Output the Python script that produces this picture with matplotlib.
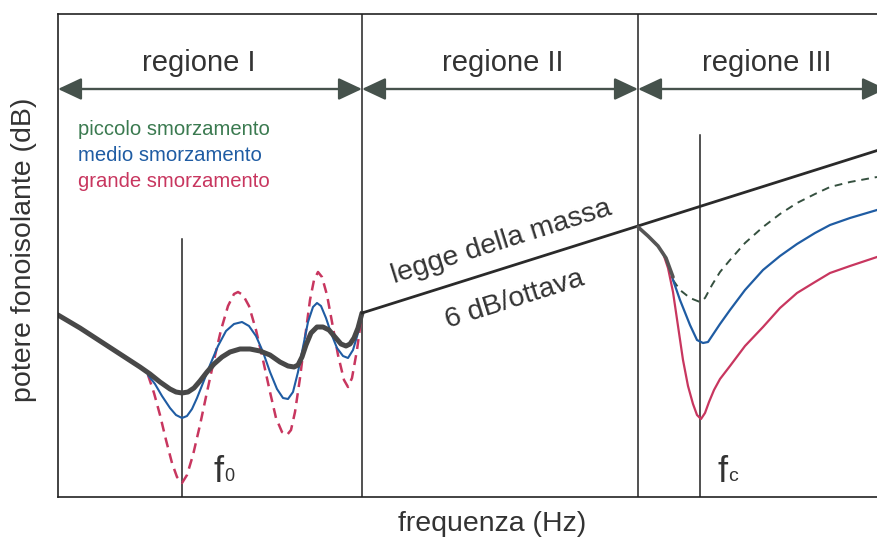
import matplotlib.pyplot as plt
from matplotlib.patches import FancyArrowPatch

plt.rcParams['font.family'] = ['Liberation Sans', 'DejaVu Sans']

# schematic units: x grows with frequency, y grows downwards (less insulation)
X_MIN, X_MAX = 58, 920
Y_TOP, Y_BOT = 14, 497

# region boundaries and characteristic frequencies
region_edges = [58, 362, 638, 886]
region_names = ['regione I', 'regione II', 'regione III']
region_label_x = [199, 503, 767]
f0_x, f0_top = 182, 239
fc_x, fc_top = 700, 135

# region I: stiffness / resonance region
r1_thick_x = [58, 80, 100, 120, 140, 150, 160, 170, 176, 182, 188, 194, 200,
              207, 214, 222, 230, 240, 250, 260, 270, 280, 288, 294, 298, 302,
              306, 311, 317, 323, 329, 335, 341, 346, 350, 354, 358, 362]
r1_thick_y = [315, 328, 341, 354, 367, 374, 382, 389, 392, 393, 392, 388, 381,
              372, 364, 357, 352, 349, 349, 351, 355, 362, 366, 367, 365, 357,
              345, 333, 327, 327, 330, 337, 344, 346, 344, 338, 328, 313]
r1_blue_x = [148, 155, 162, 170, 176, 182, 187, 192, 197, 203, 210, 218, 226,
             234, 242, 249, 256, 263, 270, 277, 283, 288, 293, 298, 303, 308,
             313, 317, 321, 326, 331, 337, 343, 348, 353, 358, 362]
r1_blue_y = [375, 384, 396, 408, 415, 418, 416, 409, 398, 383, 365, 346, 331,
             324, 322, 326, 336, 352, 372, 389, 398, 399, 392, 372, 347, 322,
             307, 303, 306, 318, 333, 348, 356, 358, 350, 333, 313]
r1_red_x = [148, 154, 160, 166, 172, 177, 182, 187, 193, 200, 207, 214, 221,
            228, 234, 238, 243, 249, 256, 263, 270, 276, 282, 287, 291, 295,
            300, 305, 310, 314, 318, 322, 327, 332, 338, 344, 348, 352, 357, 362]
r1_red_y = [375, 393, 415, 440, 463, 477, 483, 475, 455, 425, 392, 360, 330,
            306, 294, 292, 295, 306, 330, 360, 392, 418, 432, 435, 430, 412,
            378, 338, 300, 280, 272, 277, 295, 322, 355, 380, 387, 378, 350, 313]

# region II: mass law, 6 dB per octave
mass_x = [362, 638, 920]
mass_y = [313, 226, 137]

# region III: coincidence region
r3_common_x = [638, 648, 658, 666, 673]
r3_common_y = [227, 236, 246, 258, 277]
r3_green_x = [673, 680, 690, 700, 705, 712, 720, 730, 745, 763, 780, 797, 815,
              830, 850, 877]
r3_green_y = [280, 290, 298, 302, 298, 285, 272, 260, 243, 227, 214, 203, 194,
              187, 182, 177]
r3_blue_x = [672, 680, 690, 697, 703, 708, 714, 720, 730, 745, 763, 780, 797,
             815, 830, 850, 877]
r3_blue_y = [277, 300, 325, 340, 343, 342, 333, 324, 310, 290, 270, 256, 244,
             233, 225, 218, 210]
r3_red_x = [663, 668, 673, 678, 683, 688, 693, 697, 701, 705, 709, 714, 720,
            730, 745, 763, 780, 797, 815, 830, 850, 877]
r3_red_y = [253, 268, 292, 326, 360, 386, 404, 415, 419, 413, 402, 390, 379,
            366, 346, 327, 308, 293, 282, 273, 266, 257]

damping_labels = ['piccolo smorzamento', 'medio smorzamento', 'grande smorzamento']

GREEN = '#3b7a50'
BLUE = '#1f5ca3'
RED = '#c8365f'
GREY = '#484848'
ARROW = '#46524c'
TEXT = '#333333'

fig = plt.figure(figsize=(8.77, 5.42), dpi=100)
ax = fig.add_axes([X_MIN / 877, (542 - Y_BOT) / 542,
                   (X_MAX - X_MIN) / 877, (Y_BOT - Y_TOP) / 542])
ax.set_xlim(X_MIN, X_MAX)
ax.set_ylim(Y_BOT, Y_TOP)
ax.set_xticks([])
ax.set_yticks([])
for s in ax.spines.values():
    s.set_linewidth(1.2)
    s.set_color('#222222')

# region separators and f0 / fc markers
for xe in region_edges[1:3]:
    ax.plot([xe, xe], [Y_TOP, Y_BOT], color='#222222', lw=1.1)
ax.plot([f0_x, f0_x], [f0_top, Y_BOT], color='#222222', lw=1.1)
ax.plot([fc_x, fc_x], [fc_top, Y_BOT], color='#222222', lw=1.1)

# region arrows
for a, b, name, lx in zip(region_edges[:-1], region_edges[1:], region_names, region_label_x):
    arr = FancyArrowPatch((a, 89), (b, 89), arrowstyle='<|-|>,head_length=1.45,head_width=0.68',
                          mutation_scale=10, color=ARROW, lw=1.7,
                          shrinkA=0, shrinkB=0, clip_on=False)
    ax.add_patch(arr)
    ax.text(lx, 71, name, ha='center', va='baseline', fontsize=21, color=TEXT)

# curves
ax.plot(r1_red_x, r1_red_y, color=RED, lw=1.8, dashes=(4, 2.5))
ax.plot(r1_blue_x, r1_blue_y, color=BLUE, lw=1.5)
ax.plot(r1_thick_x, r1_thick_y, color=GREY, lw=3.6, solid_capstyle='round')
ax.plot(mass_x, mass_y, color='#2a2a2a', lw=2.0)
ax.plot(r3_green_x, r3_green_y, color='#35503f', lw=1.4, dashes=(4, 3))
ax.plot(r3_blue_x, r3_blue_y, color=BLUE, lw=1.6)
ax.plot(r3_red_x, r3_red_y, color=RED, lw=1.6)
ax.plot(r3_common_x, r3_common_y, color='#555555', lw=2.6, solid_capstyle='round')

# damping legend
for i, (lab, col) in enumerate(zip(damping_labels, [GREEN, BLUE, RED])):
    ax.text(78, 135 + 26 * i, lab, ha='left', va='baseline', fontsize=14.6, color=col)

# mass law annotation
ax.text(501, 242, 'legge della massa', rotation=17.5, rotation_mode='anchor',
        ha='center', va='center', fontsize=20.5, color=TEXT)
ax.text(515, 300, '6 dB/ottava', rotation=17.5, rotation_mode='anchor',
        ha='center', va='center', fontsize=20.5, color=TEXT)

# frequency markers
ax.text(214, 482, 'f', ha='left', va='baseline', fontsize=26, color=TEXT)
ax.text(224, 481, '0', ha='left', va='baseline', fontsize=13, color=TEXT)
ax.text(717, 482, 'f', ha='left', va='baseline', fontsize=26, color=TEXT)
ax.text(728, 481, 'c', ha='left', va='baseline', fontsize=14, color=TEXT)

ax.set_xlabel('frequenza (Hz)', fontsize=20.5, color=TEXT)
ax.set_ylabel('potere fonoisolante (dB)', fontsize=20.5, color=TEXT)
ax.xaxis.set_label_coords((492 - X_MIN) / (X_MAX - X_MIN), -(524 - Y_BOT) / (Y_BOT - Y_TOP))
ax.yaxis.set_label_coords(-(X_MIN - 24) / (X_MAX - X_MIN), (Y_BOT - 250) / (Y_BOT - Y_TOP))
ax.xaxis.label.set_va('center')
ax.yaxis.label.set_va('center')

fig.savefig('out.png', dpi=100, facecolor='white')
